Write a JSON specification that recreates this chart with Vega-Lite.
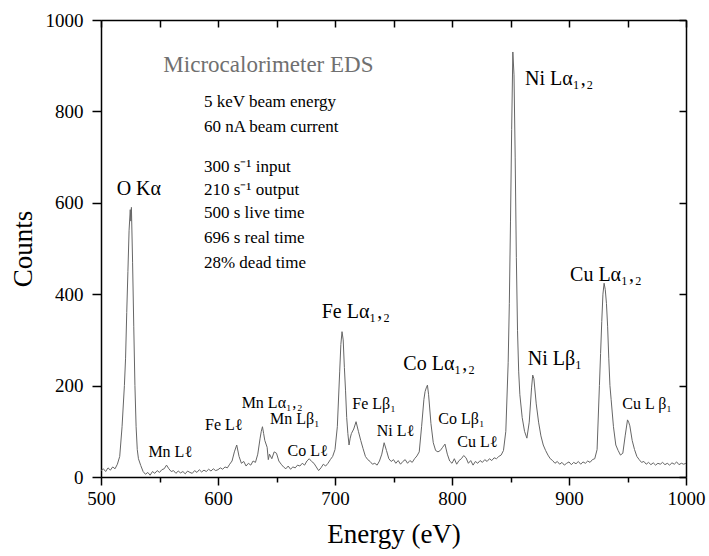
{
  "$schema": "https://vega.github.io/schema/vega-lite/v6.json",
  "width": 585,
  "height": 457,
  "autosize": "none",
  "padding": {"left": 101, "top": 20, "right": 23, "bottom": 79},
  "background": "white",
  "config": {"view": {"stroke": null}, "font": "Liberation Serif, Times New Roman, serif"},
  "datasets": {
    "spectrum": [
      {"energy":500,"counts":14},{"energy":502,"counts":18},{"energy":504,"counts":12},{"energy":506,"counts":20},{"energy":508,"counts":15},{"energy":510,"counts":22},{"energy":512,"counts":18},{"energy":514,"counts":28},{"energy":516,"counts":45},{"energy":518,"counts":110},{"energy":520,"counts":200},{"energy":521,"counts":260},{"energy":522,"counts":360},{"energy":523,"counts":450},{"energy":524,"counts":540},{"energy":525,"counts":585},{"energy":525.5,"counts":560},{"energy":526,"counts":590},{"energy":527,"counts":470},{"energy":528,"counts":330},{"energy":529,"counts":200},{"energy":530,"counts":110},{"energy":531,"counts":60},{"energy":532,"counts":40},{"energy":534,"counts":25},{"energy":536,"counts":12},{"energy":538,"counts":6},{"energy":540,"counts":10},{"energy":542,"counts":4},{"energy":544,"counts":12},{"energy":546,"counts":8},{"energy":548,"counts":14},{"energy":550,"counts":10},{"energy":552,"counts":16},{"energy":554,"counts":18},{"energy":556,"counts":26},{"energy":558,"counts":18},{"energy":560,"counts":12},{"energy":562,"counts":14},{"energy":564,"counts":8},{"energy":566,"counts":13},{"energy":568,"counts":9},{"energy":570,"counts":12},{"energy":572,"counts":7},{"energy":574,"counts":13},{"energy":576,"counts":10},{"energy":578,"counts":8},{"energy":580,"counts":14},{"energy":582,"counts":10},{"energy":584,"counts":16},{"energy":586,"counts":11},{"energy":588,"counts":15},{"energy":590,"counts":12},{"energy":592,"counts":17},{"energy":594,"counts":13},{"energy":596,"counts":18},{"energy":598,"counts":14},{"energy":600,"counts":16},{"energy":602,"counts":20},{"energy":604,"counts":17},{"energy":606,"counts":22},{"energy":608,"counts":20},{"energy":610,"counts":28},{"energy":612,"counts":35},{"energy":614,"counts":55},{"energy":616,"counts":70},{"energy":618,"counts":45},{"energy":620,"counts":30},{"energy":622,"counts":34},{"energy":624,"counts":24},{"energy":626,"counts":30},{"energy":628,"counts":26},{"energy":630,"counts":35},{"energy":632,"counts":32},{"energy":634,"counts":50},{"energy":636,"counts":85},{"energy":637,"counts":100},{"energy":638,"counts":110},{"energy":639,"counts":95},{"energy":640,"counts":80},{"energy":642,"counts":65},{"energy":643,"counts":38},{"energy":644,"counts":50},{"energy":646,"counts":40},{"energy":648,"counts":55},{"energy":650,"counts":52},{"energy":652,"counts":35},{"energy":654,"counts":28},{"energy":656,"counts":22},{"energy":658,"counts":18},{"energy":660,"counts":24},{"energy":662,"counts":17},{"energy":664,"counts":22},{"energy":666,"counts":20},{"energy":668,"counts":26},{"energy":670,"counts":24},{"energy":672,"counts":30},{"energy":674,"counts":26},{"energy":676,"counts":35},{"energy":678,"counts":40},{"energy":680,"counts":34},{"energy":682,"counts":30},{"energy":684,"counts":22},{"energy":686,"counts":14},{"energy":688,"counts":20},{"energy":690,"counts":28},{"energy":692,"counts":24},{"energy":694,"counts":30},{"energy":696,"counts":38},{"energy":698,"counts":45},{"energy":700,"counts":60},{"energy":702,"counts":110},{"energy":704,"counts":230},{"energy":705,"counts":290},{"energy":706,"counts":318},{"energy":707,"counts":300},{"energy":708,"counts":240},{"energy":709,"counts":190},{"energy":710,"counts":130},{"energy":711,"counts":95},{"energy":712,"counts":70},{"energy":713,"counts":85},{"energy":714,"counts":95},{"energy":716,"counts":105},{"energy":718,"counts":121},{"energy":720,"counts":100},{"energy":722,"counts":80},{"energy":724,"counts":62},{"energy":726,"counts":45},{"energy":728,"counts":38},{"energy":730,"counts":34},{"energy":732,"counts":28},{"energy":734,"counts":30},{"energy":736,"counts":26},{"energy":738,"counts":35},{"energy":740,"counts":50},{"energy":742,"counts":75},{"energy":744,"counts":58},{"energy":746,"counts":40},{"energy":748,"counts":34},{"energy":750,"counts":38},{"energy":752,"counts":30},{"energy":754,"counts":36},{"energy":756,"counts":28},{"energy":758,"counts":34},{"energy":760,"counts":38},{"energy":762,"counts":30},{"energy":764,"counts":36},{"energy":766,"counts":32},{"energy":768,"counts":40},{"energy":770,"counts":46},{"energy":772,"counts":55},{"energy":774,"counts":110},{"energy":776,"counts":170},{"energy":777,"counts":187},{"energy":778,"counts":195},{"energy":779,"counts":201},{"energy":780,"counts":180},{"energy":782,"counts":117},{"energy":784,"counts":75},{"energy":786,"counts":58},{"energy":788,"counts":55},{"energy":790,"counts":58},{"energy":792,"counts":65},{"energy":794,"counts":72},{"energy":796,"counts":50},{"energy":798,"counts":35},{"energy":800,"counts":30},{"energy":802,"counts":40},{"energy":804,"counts":28},{"energy":806,"counts":36},{"energy":808,"counts":40},{"energy":810,"counts":47},{"energy":812,"counts":42},{"energy":814,"counts":30},{"energy":816,"counts":36},{"energy":818,"counts":26},{"energy":820,"counts":34},{"energy":822,"counts":30},{"energy":824,"counts":36},{"energy":826,"counts":32},{"energy":828,"counts":38},{"energy":830,"counts":34},{"energy":832,"counts":40},{"energy":834,"counts":36},{"energy":836,"counts":42},{"energy":838,"counts":40},{"energy":840,"counts":45},{"energy":842,"counts":48},{"energy":844,"counts":58},{"energy":846,"counts":100},{"energy":848,"counts":250},{"energy":849,"counts":380},{"energy":850,"counts":560},{"energy":851,"counts":760},{"energy":852,"counts":930},{"energy":853,"counts":880},{"energy":854,"counts":700},{"energy":855,"counts":480},{"energy":856,"counts":320},{"energy":857,"counts":230},{"energy":858,"counts":180},{"energy":860,"counts":130},{"energy":862,"counts":100},{"energy":864,"counts":85},{"energy":866,"counts":120},{"energy":868,"counts":195},{"energy":869,"counts":223},{"energy":870,"counts":215},{"energy":872,"counts":160},{"energy":874,"counts":120},{"energy":876,"counts":90},{"energy":878,"counts":70},{"energy":880,"counts":58},{"energy":882,"counts":48},{"energy":884,"counts":40},{"energy":886,"counts":36},{"energy":888,"counts":30},{"energy":890,"counts":34},{"energy":892,"counts":28},{"energy":894,"counts":32},{"energy":896,"counts":26},{"energy":898,"counts":30},{"energy":900,"counts":33},{"energy":902,"counts":27},{"energy":904,"counts":32},{"energy":906,"counts":29},{"energy":908,"counts":34},{"energy":910,"counts":28},{"energy":912,"counts":33},{"energy":914,"counts":30},{"energy":916,"counts":35},{"energy":918,"counts":32},{"energy":920,"counts":38},{"energy":922,"counts":40},{"energy":924,"counts":60},{"energy":926,"counts":200},{"energy":927,"counts":270},{"energy":928,"counts":340},{"energy":929,"counts":400},{"energy":930,"counts":424},{"energy":931,"counts":410},{"energy":932,"counts":380},{"energy":933,"counts":330},{"energy":934,"counts":260},{"energy":935,"counts":200},{"energy":936,"counts":170},{"energy":938,"counts":110},{"energy":940,"counts":70},{"energy":942,"counts":58},{"energy":944,"counts":48},{"energy":946,"counts":52},{"energy":948,"counts":90},{"energy":950,"counts":125},{"energy":951,"counts":120},{"energy":952,"counts":112},{"energy":954,"counts":80},{"energy":956,"counts":60},{"energy":958,"counts":45},{"energy":960,"counts":38},{"energy":962,"counts":32},{"energy":964,"counts":34},{"energy":966,"counts":28},{"energy":968,"counts":32},{"energy":970,"counts":27},{"energy":972,"counts":31},{"energy":974,"counts":26},{"energy":976,"counts":30},{"energy":978,"counts":28},{"energy":980,"counts":32},{"energy":982,"counts":27},{"energy":984,"counts":30},{"energy":986,"counts":26},{"energy":988,"counts":31},{"energy":990,"counts":28},{"energy":992,"counts":33},{"energy":994,"counts":27},{"energy":996,"counts":30},{"energy":998,"counts":28},{"energy":1000,"counts":30}
    ],
    "bigLabels": [
      {"energy":513.4,"counts":617,"text":"O Kα"},
      {"energy":862.4,"counts":858,"text":"Ni Lα₁‚₂"},
      {"energy":900.9,"counts":429,"text":"Cu Lα₁‚₂"},
      {"energy":688.6,"counts":347,"text":"Fe Lα₁‚₂"},
      {"energy":758.4,"counts":234,"text":"Co Lα₁‚₂"},
      {"energy":864.7,"counts":245,"text":"Ni Lβ₁"}
    ],
    "smallLabels": [
      {"energy":620.2,"counts":150,"text":"Mn Lα₁‚₂"},
      {"energy":644.4,"counts":117,"text":"Mn Lβ₁"},
      {"energy":588.9,"counts":103,"text":"Fe Lℓ"},
      {"energy":659.5,"counts":47,"text":"Co Lℓ"},
      {"energy":540.5,"counts":44,"text":"Mn Lℓ"},
      {"energy":714.8,"counts":149,"text":"Fe Lβ₁"},
      {"energy":735.6,"counts":90,"text":"Ni Lℓ"},
      {"energy":788.3,"counts":117,"text":"Co Lβ₁"},
      {"energy":804.5,"counts":66,"text":"Cu Lℓ"},
      {"energy":945.6,"counts":148,"text":"Cu L β₁"}
    ],
    "info": [
      {"energy":588,"counts":810,"text":"5 keV beam energy"},
      {"energy":588,"counts":756,"text":"60 nA beam current"},
      {"energy":588,"counts":668,"text":"300 s⁻¹ input"},
      {"energy":588,"counts":617,"text":"210 s⁻¹ output"},
      {"energy":588,"counts":566,"text":"500 s live time"},
      {"energy":588,"counts":511,"text":"696 s real time"},
      {"energy":588,"counts":457,"text":"28% dead time"}
    ],
    "heading": [
      {"energy":553.3,"counts":887,"text":"Microcalorimeter EDS"}
    ]
  },
  "layer": [
    {
      "data": {"name": "spectrum"},
      "mark": {"type": "line", "color": "#666666", "strokeWidth": 1, "interpolate": "linear"},
      "encoding": {
        "x": {"field": "energy", "type": "quantitative",
          "scale": {"domain": [500, 1000], "nice": false, "zero": false},
          "axis": {"orient": "bottom", "values": [500,550,600,650,700,750,800,850,900,950,1000], "format": "d",
            "labelExpr": "datum.value % 100 === 0 ? datum.label : ''",
            "tickSize": {"condition": {"test": "datum.value % 100 === 0", "value": 8}, "value": 5},
            "grid": false, "domainColor": "black", "domainWidth": 1.5, "tickColor": "black", "tickWidth": 1.5,
            "labelFont": "Liberation Serif, Times New Roman, serif", "labelFontSize": 19, "labelColor": "black", "labelPadding": 4,
            "labelFlush": false, "labelOverlap": false, "labelBound": false,
            "title": "Energy (eV)", "titleFont": "Liberation Serif, Times New Roman, serif", "titleFontSize": 27, "titleFontWeight": "normal",
            "titleColor": "black", "titleY": 65, "titleBaseline": "alphabetic"}},
        "y": {"field": "counts", "type": "quantitative",
          "scale": {"domain": [0, 1000], "nice": false},
          "axis": {"orient": "left", "values": [0,200,400,600,800,1000], "format": "d",
            "tickSize": 9, "grid": false, "domainColor": "black", "domainWidth": 1.5, "tickColor": "black", "tickWidth": 1.5,
            "labelFont": "Liberation Serif, Times New Roman, serif", "labelFontSize": 19, "labelColor": "black", "labelPadding": 9,
            "labelFlush": false, "labelOverlap": false, "labelBound": false,
            "title": "Counts", "titleFont": "Liberation Serif, Times New Roman, serif", "titleFontSize": 27, "titleFontWeight": "normal",
            "titleColor": "black", "titleX": -70, "titleY": 228.5, "titleAngle": -90, "titleAlign": "center", "titleBaseline": "alphabetic"}}
      }
    },
    {
      "data": {"name": "spectrum"},
      "mark": {"type": "line", "opacity": 0},
      "encoding": {
        "x": {"field": "energy", "type": "quantitative",
          "scale": {"domain": [500, 1000], "nice": false, "zero": false},
          "axis": {"orient": "top", "values": [500,550,600,650,700,750,800,850,900,950,1000],
            "labels": false, "tickSize": -7, "grid": false, "title": null,
            "domainColor": "black", "domainWidth": 1.5, "tickColor": "black", "tickWidth": 1.5}},
        "y": {"field": "counts", "type": "quantitative",
          "scale": {"domain": [0, 1000], "nice": false},
          "axis": {"orient": "right", "values": [0,200,400,600,800,1000],
            "labels": false, "tickSize": -7, "grid": false, "title": null,
            "domainColor": "black", "domainWidth": 1.5, "tickColor": "black", "tickWidth": 1.5}}
      }
    },
    {
      "data": {"name": "bigLabels"},
      "mark": {"type": "text", "align": "left", "baseline": "alphabetic", "font": "Liberation Serif, Times New Roman, serif", "fontSize": 20, "color": "black"},
      "encoding": {
        "x": {"field": "energy", "type": "quantitative", "scale": {"domain": [500, 1000], "nice": false, "zero": false}, "axis": null},
        "y": {"field": "counts", "type": "quantitative", "scale": {"domain": [0, 1000], "nice": false}, "axis": null},
        "text": {"field": "text"}
      }
    },
    {
      "data": {"name": "smallLabels"},
      "mark": {"type": "text", "align": "left", "baseline": "alphabetic", "font": "Liberation Serif, Times New Roman, serif", "fontSize": 16, "color": "black"},
      "encoding": {
        "x": {"field": "energy", "type": "quantitative", "scale": {"domain": [500, 1000], "nice": false, "zero": false}, "axis": null},
        "y": {"field": "counts", "type": "quantitative", "scale": {"domain": [0, 1000], "nice": false}, "axis": null},
        "text": {"field": "text"}
      }
    },
    {
      "data": {"name": "info"},
      "mark": {"type": "text", "align": "left", "baseline": "alphabetic", "font": "Liberation Serif, Times New Roman, serif", "fontSize": 17, "color": "black"},
      "encoding": {
        "x": {"field": "energy", "type": "quantitative", "scale": {"domain": [500, 1000], "nice": false, "zero": false}, "axis": null},
        "y": {"field": "counts", "type": "quantitative", "scale": {"domain": [0, 1000], "nice": false}, "axis": null},
        "text": {"field": "text"}
      }
    },
    {
      "data": {"name": "heading"},
      "mark": {"type": "text", "align": "left", "baseline": "alphabetic", "font": "Liberation Serif, Times New Roman, serif", "fontSize": 23, "color": "#707070"},
      "encoding": {
        "x": {"field": "energy", "type": "quantitative", "scale": {"domain": [500, 1000], "nice": false, "zero": false}, "axis": null},
        "y": {"field": "counts", "type": "quantitative", "scale": {"domain": [0, 1000], "nice": false}, "axis": null},
        "text": {"field": "text"}
      }
    }
  ],
  "resolve": {"axis": {"x": "independent", "y": "independent"}}
}
